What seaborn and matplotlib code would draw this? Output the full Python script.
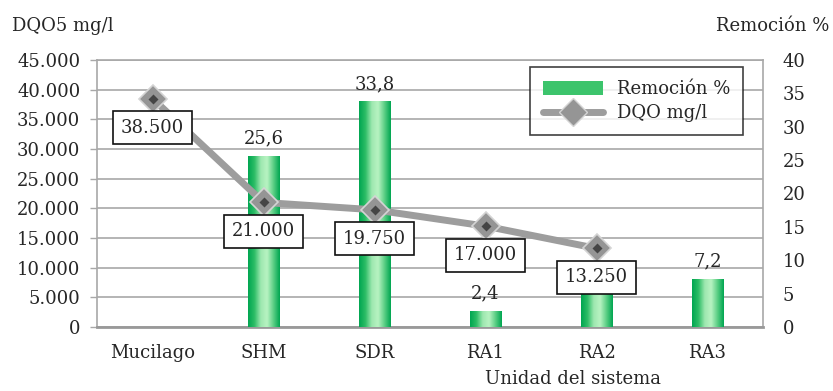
import numpy as np
import pandas as pd
import matplotlib
matplotlib.use("Agg")
import matplotlib.pyplot as plt
import seaborn as sns
from matplotlib.patches import Patch
from matplotlib.lines import Line2D
from matplotlib.colors import LinearSegmentedColormap

# ---- data ----
categories = ["Mucilago", "SHM", "SDR", "RA1", "RA2", "RA3"]
remocion = [np.nan, 25.6, 33.8, 2.4, 5.8, 7.2]
# labels visible in the reference (RA2's label is hidden behind the 13.250 box)
bar_labels = ["", "25,6", "33,8", "2,4", "", "7,2"]
dqo_categories = ["Mucilago", "SHM", "SDR", "RA1", "RA2"]
dqo = [38500, 21000, 19750, 17000, 13250]
left_ticks = [0, 5000, 10000, 15000, 20000, 25000, 30000, 35000, 40000, 45000]
right_ticks = [0, 5, 10, 15, 20, 25, 30, 35, 40]

sns.set_theme(style="white")
plt.rcParams["font.family"] = ["DejaVu Serif"]
TXT = "#262626"
FS = 13
GRID = "#a8a8a8"

fig = plt.figure(figsize=(8.33, 3.91), dpi=100)
ax = fig.add_axes([97 / 833, 1 - 327 / 391, (763 - 97) / 833, (327 - 60) / 391])
axb = ax.twinx()
axl = ax.twinx()

# ---- left axis (DQO) with grid ----
ax.set_ylim(0, 45000)
ax.set_yticks(left_ticks)
ax.set_yticklabels([f"{v:,}".replace(",", ".") for v in left_ticks])
ax.yaxis.grid(True, color=GRID, linewidth=1.2)
ax.set_axisbelow(True)
ax.tick_params(axis="y", which="major", direction="out", length=5, width=1,
               color=GRID, pad=7, labelsize=FS, labelcolor=TXT, left=True)
for s in ["top", "right", "left"]:
    ax.spines[s].set_color(GRID)
    ax.spines[s].set_linewidth(1.2)
ax.spines["bottom"].set_color("#999999")
ax.spines["bottom"].set_linewidth(2)

# ---- bars (Remoción %) on right axis ----
df_bar = pd.DataFrame({"Unidad": categories, "Remocion": remocion})
sns.barplot(data=df_bar, x="Unidad", y="Remocion", order=categories, ax=axb,
            width=0.28, color="#00b050", errorbar=None, edgecolor="none",
            linewidth=0)
axb.set_ylim(0, 40)
axb.set_yticks(right_ticks)
axb.set_yticklabels([str(v) for v in right_ticks])
axb.tick_params(axis="y", length=0, pad=14, labelsize=FS, labelcolor=TXT)
axb.set_xlabel("")
axb.set_ylabel("")
for s in axb.spines.values():
    s.set_visible(False)

cmap = LinearSegmentedColormap.from_list(
    "grn", ["#00a651", "#2dbd66", "#9ee8b0", "#b8f3c2", "#5ccf85", "#00a651"])
for p in list(axb.patches):
    h = p.get_height()
    if not np.isfinite(h) or h == 0:
        continue
    x0, y0, w = p.get_x(), p.get_y(), p.get_width()
    im = axb.imshow(np.linspace(0, 1, 100).reshape(1, -1), cmap=cmap,
                    extent=[x0, x0 + w, y0, y0 + h], aspect="auto",
                    interpolation="bicubic", zorder=p.get_zorder() + 0.1)
    im.set_clip_path(p)
axb.set_xlim(-0.5, len(categories) - 0.5)
axb.set_ylim(0, 40)

for i, (v, lab) in enumerate(zip(remocion, bar_labels)):
    if np.isfinite(v) and lab:
        axb.annotate(lab, (i, v), xytext=(0, 6),
                     textcoords="offset points", ha="center", va="bottom",
                     fontsize=FS, color=TXT)

# ---- line (DQO) ----
xpos = [categories.index(c) for c in dqo_categories]
sns.lineplot(x=xpos, y=dqo, ax=axl, color="#9d9d9d", linewidth=5,
             marker="D", markersize=14, markerfacecolor="#959595",
             markeredgecolor="#d4d4d4", markeredgewidth=1.2, legend=False)
axl.plot(xpos, dqo, linestyle="none", marker="D", markersize=5,
         markerfacecolor="#454545", markeredgecolor="none")
axl.set_ylim(0, 45000)
axl.set_xlim(-0.5, len(categories) - 0.5)
axl.yaxis.set_visible(False)
for s in axl.spines.values():
    s.set_visible(False)
for x, v in zip(xpos, dqo):
    axl.annotate(f"{v:,}".replace(",", "."), (x, v), xytext=(0, -29),
                 textcoords="offset pixels", ha="center", va="center",
                 fontsize=FS, color=TXT,
                 bbox=dict(boxstyle="square,pad=0.42", fc="white", ec="#111111", lw=1.2))

# ---- x axis ----
ax.set_xlim(-0.5, len(categories) - 0.5)
ax.set_xticks(range(len(categories)))
ax.set_xticklabels(categories)
ax.tick_params(axis="x", length=0, pad=12, labelsize=FS, labelcolor=TXT)

# ---- legend ----
handles = [
    Patch(facecolor="#3cc46c", edgecolor="none", label="Remoción %"),
    Line2D([0], [0], color="#9d9d9d", linewidth=5, marker="D", markersize=14,
           markerfacecolor="#959595", markeredgecolor="#d4d4d4", label="DQO mg/l"),
]
leg = axl.legend(handles=handles, loc="upper right", bbox_to_anchor=(0.970, 0.972),
                 frameon=True, fancybox=False, edgecolor="#111111", fontsize=FS,
                 handlelength=3.3, handleheight=0.8, borderpad=0.7, labelspacing=0.35,
                 handletextpad=0.8, borderaxespad=0)
leg.get_frame().set_linewidth(1.2)
for t in leg.get_texts():
    t.set_color(TXT)

# ---- titles ----
fig.text(12 / 833, 1 - 26 / 391, "DQO5 mg/l", ha="left", va="center", fontsize=FS, color=TXT)
fig.text(829 / 833, 1 - 26 / 391, "Remoción %", ha="right", va="center", fontsize=FS, color=TXT)
fig.text(573 / 833, 1 - 379 / 391, "Unidad del sistema", ha="center", va="center",
         fontsize=FS, color=TXT)

fig.savefig("out.png", dpi=100, facecolor="white")
